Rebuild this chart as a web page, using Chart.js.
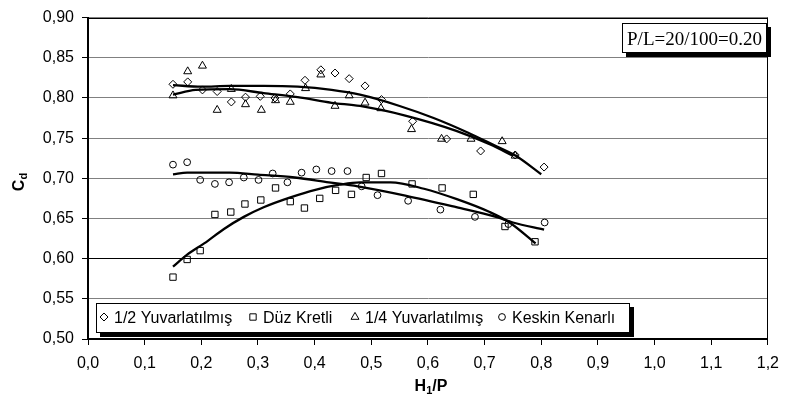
<!DOCTYPE html>
<html><head><meta charset="utf-8">
<script src="https://cdn.jsdelivr.net/npm/chart.js@4.4.1/dist/chart.umd.min.js"></script>
<style>html,body{margin:0;padding:0;background:#fff}#wrap{position:relative;width:788px;height:416px}</style>
</head><body><div id="wrap"><canvas id="c" width="788" height="416"></canvas></div>
<script>
// ---- data ----
const seriesNames = ['1/2 Yuvarlatılmış', 'Düz Kretli', '1/4 Yuvarlatılmış', 'Keskin Kenarlı'];

const xHalf   = [0.150,0.176,0.202,0.228,0.253,0.278,0.304,0.330,0.357,0.383,0.411,0.436,0.461,0.489,0.518,0.573,0.633,0.693,0.754,0.805];
const cdHalf  = [0.817,0.820,0.810,0.808,0.795,0.801,0.802,0.800,0.805,0.822,0.835,0.831,0.824,0.815,0.798,0.771,0.749,0.734,0.729,0.714];

const xFlat   = [0.150,0.175,0.198,0.224,0.252,0.277,0.305,0.331,0.357,0.382,0.409,0.437,0.465,0.491,0.518,0.572,0.625,0.680,0.736,0.789];
const cdFlat  = [0.577,0.599,0.610,0.655,0.658,0.668,0.673,0.688,0.671,0.663,0.675,0.685,0.680,0.701,0.706,0.693,0.688,0.680,0.640,0.621];

const xQuarter  = [0.150,0.176,0.202,0.228,0.253,0.278,0.306,0.331,0.357,0.384,0.411,0.436,0.461,0.489,0.517,0.571,0.624,0.676,0.731,0.754];
const cdQuarter = [0.803,0.833,0.840,0.785,0.811,0.792,0.785,0.797,0.795,0.812,0.829,0.790,0.803,0.794,0.787,0.761,0.749,0.749,0.746,0.728];

const xSharp  = [0.150,0.175,0.198,0.224,0.249,0.275,0.301,0.326,0.352,0.377,0.403,0.430,0.458,0.483,0.511,0.565,0.622,0.683,0.742,0.806];
const cdSharp = [0.717,0.720,0.698,0.693,0.695,0.701,0.698,0.706,0.695,0.707,0.711,0.709,0.709,0.690,0.679,0.672,0.661,0.652,0.643,0.645];

// trend curves
const trendHalfX = [0.15,0.20,0.25,0.31,0.37,0.43,0.48,0.55,0.61,0.67,0.72,0.755,0.80];
const trendHalfY = [0.816,0.814,0.815,0.815,0.814,0.810,0.804,0.790,0.775,0.757,0.740,0.728,0.705];
const trendFlatX = [0.15,0.175,0.205,0.24,0.275,0.31,0.356,0.403,0.444,0.48,0.534,0.593,0.651,0.709,0.744,0.79];
const trendFlatY = [0.590,0.605,0.619,0.637,0.652,0.664,0.676,0.686,0.692,0.695,0.695,0.687,0.674,0.658,0.645,0.619];
const trendQuarterX = [0.15,0.19,0.25,0.31,0.37,0.43,0.48,0.56,0.65,0.71,0.75];
const trendQuarterY = [0.804,0.810,0.811,0.806,0.801,0.794,0.790,0.778,0.759,0.742,0.728];
const trendSharpX = [0.15,0.175,0.25,0.30,0.365,0.425,0.476,0.56,0.65,0.72,0.75,0.805];
const trendSharpY = [0.705,0.707,0.707,0.7045,0.701,0.695,0.690,0.6785,0.664,0.652,0.645,0.636];

const xTickLabels = ['0,0','0,1','0,2','0,3','0,4','0,5','0,6','0,7','0,8','0,9','1,0','1,1','1,2'];
const yTickLabels = ['0,50','0,55','0,60','0,65','0,70','0,75','0,80','0,85','0,90'];
const xTitleMain = 'H', xTitleSub = '1', xTitleTail = '/P';
const yTitleMain = 'C', yTitleSub = 'd';
const annotationText = 'P/L=20/100=0.20';

// ---- build ----
const pts = (xs, ys) => xs.map((x, i) => ({x: x, y: ys[i]}));
const SANS = '"Liberation Sans", Arial, sans-serif';
const SERIF = '"Liberation Serif", "Times New Roman", serif';
const markerStyles = ['rectRot', 'rect', 'triangle', 'circle'];
const markerRadius = [4, 4.5, 4.6, 3.4];

function markerSet(label, xs, ys, k) {
  return {label: label, data: pts(xs, ys), showLine: false,
    pointStyle: markerStyles[k], pointRadius: markerRadius[k], pointHoverRadius: markerRadius[k],
    pointBorderColor: '#000', pointBackgroundColor: 'rgba(0,0,0,0)', pointBorderWidth: 1,
    borderColor: '#000', backgroundColor: 'rgba(0,0,0,0)'};
}
function trendSet(xs, ys) {
  return {label: '', data: pts(xs, ys), showLine: true, pointRadius: 0, pointHoverRadius: 0,
    borderColor: '#000', borderWidth: 2.3, cubicInterpolationMode: 'monotone', fill: false};
}

const datasets = [
  markerSet(seriesNames[0], xHalf, cdHalf, 0),
  markerSet(seriesNames[1], xFlat, cdFlat, 1),
  markerSet(seriesNames[2], xQuarter, cdQuarter, 2),
  markerSet(seriesNames[3], xSharp, cdSharp, 3),
  trendSet(trendHalfX, trendHalfY),
  trendSet(trendFlatX, trendFlatY),
  trendSet(trendQuarterX, trendQuarterY),
  trendSet(trendSharpX, trendSharpY)
];

function drawMarker(ctx, style, x, y, r) {
  ctx.beginPath();
  if (style === 'rectRot') {
    ctx.moveTo(x - r, y); ctx.lineTo(x, y - r); ctx.lineTo(x + r, y); ctx.lineTo(x, y + r); ctx.closePath();
  } else if (style === 'rect') {
    const s = Math.SQRT1_2 * r; ctx.rect(x - s, y - s, 2 * s, 2 * s);
  } else if (style === 'triangle') {
    for (let i = 0; i < 3; i++) {
      const a = i * 2 * Math.PI / 3;
      const px = x + Math.sin(a) * r, py = y - Math.cos(a) * r;
      if (i === 0) ctx.moveTo(px, py); else ctx.lineTo(px, py);
    }
    ctx.closePath();
  } else {
    ctx.arc(x, y, r, 0, Math.PI * 2);
  }
  ctx.stroke();
}

function shadowBox(ctx, x, y, w, h) {
  ctx.fillStyle = '#000';
  ctx.fillRect(x + 4, y + 4, w, h);
  ctx.fillStyle = '#fff';
  ctx.fillRect(x, y, w, h);
  ctx.strokeStyle = '#000'; ctx.lineWidth = 1;
  ctx.strokeRect(x + 0.5, y + 0.5, w - 1, h - 1);
}

const decor = {
  id: 'decor',
  afterDraw(chart) {
    const ctx = chart.ctx, a = chart.chartArea;
    ctx.save();
    // plot frame (top & right)
    ctx.strokeStyle = '#000'; ctx.lineWidth = 1;
    ctx.beginPath();
    ctx.moveTo(a.left, Math.round(a.top) + 0.5); ctx.lineTo(a.right, Math.round(a.top) + 0.5);
    ctx.moveTo(Math.round(a.right) - 0.5, a.top); ctx.lineTo(Math.round(a.right) - 0.5, a.bottom);
    ctx.stroke();

    // annotation box
    ctx.font = '19px ' + SERIF;
    const tw = ctx.measureText(annotationText).width;
    const bw = Math.round(tw + 10), bx = 767 - bw, by = 23, bh = 30;
    shadowBox(ctx, bx, by, bw, bh);
    ctx.fillStyle = '#000'; ctx.textAlign = 'center'; ctx.textBaseline = 'alphabetic';
    ctx.fillText(annotationText, bx + bw / 2, 45);

    // legend box
    shadowBox(ctx, 96, 303, 534, 30);
    const textX = [114, 263, 365, 512];
    ctx.font = '16px ' + SANS; ctx.textAlign = 'left';
    for (let k = 0; k < 4; k++) {
      ctx.strokeStyle = '#000'; ctx.lineWidth = 1;
      drawMarker(ctx, markerStyles[k], textX[k] - 10, 317, markerRadius[k]);
      ctx.fillStyle = '#000';
      ctx.fillText(chart.data.datasets[k].label, textX[k], 323);
    }

    // axis titles
    ctx.fillStyle = '#000';
    // x title
    ctx.font = 'bold 16px ' + SANS;
    const w1 = ctx.measureText(xTitleMain).width;
    const w3 = ctx.measureText(xTitleTail).width;
    ctx.font = 'bold 11px ' + SANS;
    const w2 = ctx.measureText(xTitleSub).width;
    let sx = 431 - (w1 + w2 + w3) / 2;
    ctx.font = 'bold 16px ' + SANS; ctx.fillText(xTitleMain, sx, 391);
    ctx.font = 'bold 11px ' + SANS; ctx.fillText(xTitleSub, sx + w1, 394);
    ctx.font = 'bold 16px ' + SANS; ctx.fillText(xTitleTail, sx + w1 + w2, 391);
    // y title
    ctx.translate(24, 182); ctx.rotate(-Math.PI / 2);
    ctx.font = 'bold 16px ' + SANS;
    const c1 = ctx.measureText(yTitleMain).width;
    ctx.font = 'bold 11px ' + SANS;
    const c2 = ctx.measureText(yTitleSub).width;
    const sy = -(c1 + c2) / 2;
    ctx.font = 'bold 16px ' + SANS; ctx.fillText(yTitleMain, sy, 0);
    ctx.font = 'bold 11px ' + SANS; ctx.fillText(yTitleSub, sy + c1, 3);
    ctx.restore();
  }
};

new Chart(document.getElementById('c'), {
  type: 'scatter',
  data: {datasets: datasets},
  options: {
    responsive: false, animation: false, devicePixelRatio: 1,
    layout: {padding: {top: 16, right: 14, bottom: 0, left: 0}},
    plugins: {legend: {display: false}, tooltip: {enabled: false}},
    scales: {
      x: {
        type: 'linear', min: 0, max: 1.2,
        afterFit: s => { s.height = 77; },
        ticks: {stepSize: 0.1, autoSkip: false, maxRotation: 0, color: '#000', padding: 9,
          font: {family: SANS, size: 16}, callback: (v, i) => xTickLabels[i]},
        grid: {drawOnChartArea: false, drawTicks: true, tickLength: 6, tickColor: '#000', tickWidth: 1},
        border: {display: true, color: '#000', width: 2}
      },
      y: {
        type: 'linear', min: 0.5, max: 0.9,
        afterFit: s => { s.width = 88; },
        ticks: {stepSize: 0.05, autoSkip: false, color: '#000', padding: 8,
          font: {family: SANS, size: 16}, callback: (v, i) => yTickLabels[i]},
        grid: {drawOnChartArea: true, drawTicks: true, tickLength: 6, tickColor: '#000', lineWidth: 1,
          color: c => (c.tick && Math.abs(c.tick.value - 0.6) < 1e-6) ? '#000' : '#808080'},
        border: {display: true, color: '#000', width: 2}
      }
    }
  },
  plugins: [decor]
});
</script></body></html>
